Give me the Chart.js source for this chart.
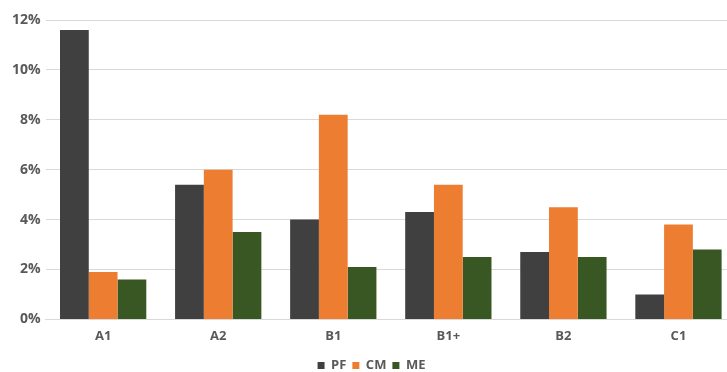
<!DOCTYPE html>
<html>
<head>
<meta charset="utf-8">
<script src="https://cdn.jsdelivr.net/npm/chart.js@4"></script>
<style>
  html, body { margin: 0; padding: 0; background: #fff; overflow: hidden; }
  #wrap { width: 736px; height: 372px; }
</style>
</head>
<body>
<div id="wrap"><canvas id="chartNiveles"></canvas></div>
<script>
"use strict";

// Porcentaje por nivel y grupo
var niveles = ['A1', 'A2', 'B1', 'B1+', 'B2', 'C1'];
var valoresPF = [11.6, 5.4, 4.0, 4.3, 2.7, 1.0];
var valoresCM = [1.9, 6.0, 8.2, 5.4, 4.5, 3.8];
var valoresME = [1.6, 3.5, 2.1, 2.5, 2.5, 2.8];
var ticksY = [0, 2, 4, 6, 8, 10, 12];

var fuente = "'Open Sans', 'DejaVu Sans', sans-serif";
var gris = '#595959';

new Chart(document.getElementById('chartNiveles'), {
  type: 'bar',
  data: {
    labels: niveles,
    datasets: [
      { label: 'PF', data: valoresPF, backgroundColor: '#404040' },
      { label: 'CM', data: valoresCM, backgroundColor: '#ed7d31' },
      { label: 'ME', data: valoresME, backgroundColor: '#385723' }
    ]
  },
  options: {
    responsive: true,
    maintainAspectRatio: false,
    animation: false,
    layout: { padding: { top: 20, right: 0, left: 7, bottom: -10 } },
    datasets: {
      bar: { categoryPercentage: 0.75, barPercentage: 1.0 }
    },
    scales: {
      x: {
        grid: { display: false, drawTicks: false },
        border: { color: '#d9d9d9' },
        ticks: {
          color: gris,
          padding: 9,
          font: { family: fuente, size: 13, weight: 'bold' }
        }
      },
      y: {
        min: 0,
        max: 12,
        afterBuildTicks: function (axis) {
          axis.ticks = ticksY.map(function (v) { return { value: v }; });
        },
        grid: { color: '#d9d9d9', drawTicks: false },
        border: { display: false },
        ticks: {
          color: gris,
          padding: 5,
          font: { family: fuente, size: 14, weight: 'bold' },
          callback: function (v) { return v + '%'; }
        }
      }
    },
    plugins: {
      legend: {
        position: 'bottom',
        labels: {
          color: gris,
          boxWidth: 7,
          boxHeight: 7,
          padding: 6,
          font: { family: fuente, size: 13, weight: 'bold' }
        }
      },
      tooltip: { enabled: false }
    }
  }
});
</script>
</body>
</html>
